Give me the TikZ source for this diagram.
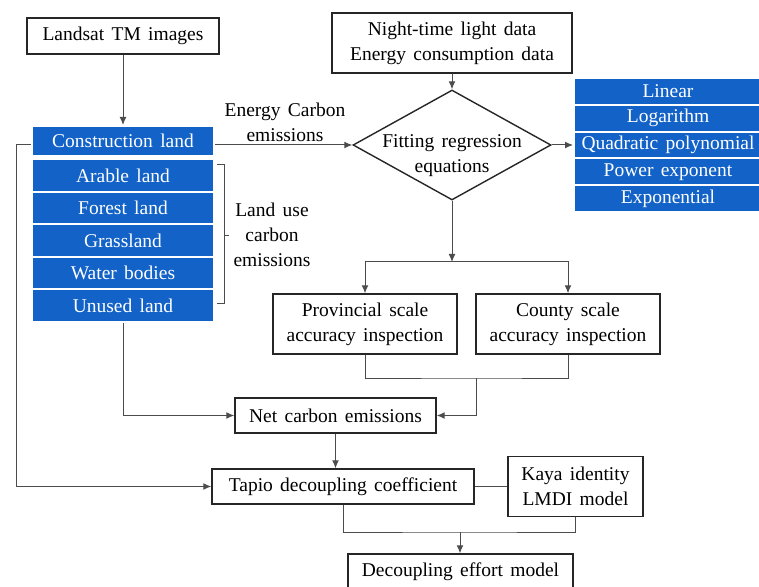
\documentclass[tikz,border=0pt]{standalone}
\usepackage{fontspec}
\setmainfont{Liberation Serif}[WordSpace=1.5]
\usetikzlibrary{shapes.geometric,arrows.meta}
\definecolor{landblue}{RGB}{18,98,200}
\tikzset{
    box/.style={draw=black!85, line width=0.7pt, align=center, inner sep=0pt},
    landbox/.style={fill=landblue, draw=white, line width=1pt, text=white, inner sep=0pt, minimum width=91pt, minimum height=16.25pt},
    fitbox/.style={landbox, minimum width=94pt, minimum height=13.4pt},
    link/.style={draw=black!70, line width=0.5pt},
}
\begin{document}
\begin{tikzpicture}[x=0.5pt, y=-0.5pt, >={Latex[length=4pt,width=3.4pt]}, font=\fontsize{9.75}{12.5}\selectfont]
    \useasboundingbox (0,0) rectangle (759,587);
        \node[box, minimum width=96pt, minimum height=18pt] (landsat) at (123,36) {Landsat TM images};
        \node[box, minimum width=120pt, minimum height=30pt] (night) at (452,43) {Night-time light data\\Energy consumption data};
        \node[box, shape=diamond, aspect=1.8, inner xsep=-3pt, inner ysep=-8pt, minimum width=99pt, minimum height=55pt] (fit) at (452,145) {\rule{0pt}{17pt}Fitting regression\\equations};

        \node[landbox, minimum height=15pt] (con) at (123,141) {Construction land};
        \node[landbox] (arable) at (123,175.5) {Arable land};
        \node[landbox] (forest) at (123,208) {Forest land};
        \node[landbox] (grass) at (123,240.5) {Grassland};
        \node[landbox] (water) at (123,273) {Water bodies};
        \node[landbox] (unused) at (123,305.5) {Unused land};

        \node[fitbox] (linear) at (668,91.4) {Linear};
        \node[fitbox] (log) at (668,118.2) {Logarithm};
        \node[fitbox] (quad) at (668,145) {Quadratic polynomial};
        \node[fitbox] (power) at (668,171.8) {Power exponent};
        \node[fitbox] (expo) at (668,198.6) {Exponential};

        \node[align=center] (ecelab) at (285,122) {Energy Carbon\\emissions};
        \node[align=center] (luclab) at (272,235) {Land use\\carbon\\emissions};
        \draw[link] (217,165) -- (224,165) -- (224,304) -- (217,304);
        \draw[link] (224,236) -- (229,236);

        \node[box, minimum width=92pt, minimum height=30pt] (prov) at (365,324) {Provincial scale\\accuracy inspection};
        \node[box, minimum width=92pt, minimum height=30pt] (county) at (568,324) {County scale\\accuracy inspection};
        \node[box, minimum width=100.5pt, minimum height=17.5pt] (net) at (335.5,415.5) {Net carbon emissions};
        \node[box, minimum width=131pt, minimum height=17.5pt] (tapio) at (343,486.5) {Tapio decoupling coefficient};
        \node[box, minimum width=67.5pt, minimum height=30pt] (kaya) at (575.5,486.5) {Kaya identity\\LMDI model};
        \node[box, minimum width=112.5pt, minimum height=18pt] (dec) at (460.5,572) {Decoupling effort model};

        \coordinate (split) at (452,262);
        \coordinate (merge) at (476,378);
        \coordinate (join) at (460,532);
        \coordinate (rail) at (16,145);

        \draw[link,->] (landsat) -- (con);
        \draw[link,->] (night) -- (fit);
        \draw[link,->] (con.east |- fit.west) -- (fit.west);
        \draw[link,->] (fit.east) -- (quad.west);
        \draw[link,->] (fit.south) -- (split);
        \draw[link,->] (split) -| (prov.north);
        \draw[link,->] (split) -| (county.north);
        \draw[link] (prov.south) |- (merge) -| (county.south);
        \draw[link,->] (merge) |- (net.east);
        \draw[link,->] (unused.south) |- (net.west);
        \draw[link,->] (net.south) -- (net.south |- tapio.north);
        \draw[link,->] (con.west |- rail) -- (rail) |- (tapio.west);
        \draw[link] (tapio.east) -- (kaya.west);
        \draw[link] (tapio.south) |- (join) -| (kaya.south);
        \draw[link,->] (join) -- (join |- dec.north);
    \end{tikzpicture}
\end{document}
